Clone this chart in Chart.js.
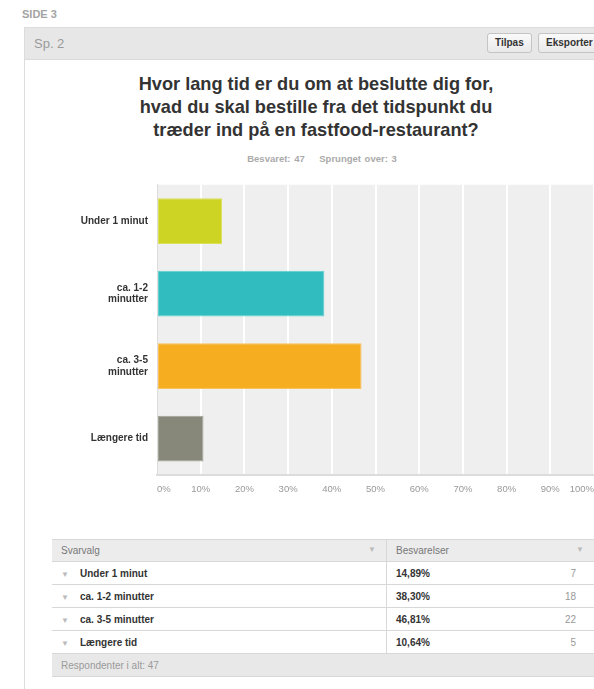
<!DOCTYPE html>
<html>
<head>
<meta charset="utf-8">
<script src="https://cdn.jsdelivr.net/npm/chart.js@4/dist/chart.umd.min.js"></script>
<style>
  body{margin:0;width:594px;height:689px;overflow:hidden;background:#fff;font-family:"Liberation Sans",Arial,sans-serif;position:relative;}
  .side{position:absolute;left:22px;top:8px;font-size:11px;font-weight:bold;color:#a3a3a3;}
  .panel{position:absolute;left:24px;top:27px;width:620px;height:700px;border:1px solid #dcdcdc;background:#fff;}
  .head{position:absolute;left:0;top:0;right:0;height:31px;background:#e7e7e7;border-bottom:1px solid #dadada;}
  .sp{position:absolute;left:9px;top:8px;font-size:13px;color:#9a9a9a;}
  .btn{position:absolute;top:5px;height:18px;line-height:18px;padding:0 7px;font-size:10px;font-weight:bold;color:#333;
       background:linear-gradient(#fafafa,#e9e9e9);border:1px solid #c4c4c4;border-radius:3px;}
  .title{position:absolute;left:0;width:632px;top:73px;text-align:center;font-size:18.2px;font-weight:bold;color:#333;line-height:23px;}
  .meta{position:absolute;left:0;width:644px;top:153px;text-align:center;font-size:9.5px;font-weight:bold;color:#aaa;word-spacing:1px;}
  #wrap{position:absolute;left:40px;top:170px;width:563px;height:331px;}
  table{position:absolute;left:52px;top:539px;width:570px;border-collapse:collapse;font-size:10px;}
  td{border-bottom:1px solid #d8d8d8;height:22px;padding:0;color:#333;}
  tr.hd td{background:#ececec;color:#777;height:21px;border-top:1px solid #d8d8d8;}
  tr.ft td{background:#e8e8e8;color:#9a9a9a;height:22px;}
  .c1{width:325px;border-right:1px solid #d8d8d8;}
  .arr{color:#bbb;font-size:8px;display:inline-block;width:19px;padding-left:9px;}
  .b{font-weight:bold;}
  .n{text-align:right;padding-right:46px;color:#999;}
</style>
</head>
<body>
<div class="side">SIDE 3</div>
<div class="panel">
  <div class="head">
    <div class="sp">Sp. 2</div>
    <div class="btn" style="left:462px;">Tilpas</div>
    <div class="btn" style="left:513px;">Eksporter</div>
  </div>
</div>
<div class="title">Hvor lang tid er du om at beslutte dig for,<br>hvad du skal bestille fra det tidspunkt du<br>træder ind på en fastfood-restaurant?</div>
<div class="meta">Besvaret: 47 &nbsp;&nbsp; Sprunget over: 3</div>
<div id="wrap"><canvas id="chart"></canvas></div>

<table>
  <tr class="hd"><td class="c1" style="padding-left:9px;">Svarvalg<span style="float:right;margin-right:10px;color:#bbb;font-size:8px;">▼</span></td><td style="padding-left:9px;" colspan="2">Besvarelser<span style="float:right;margin-right:38px;color:#bbb;font-size:8px;">▼</span></td></tr>
  <tbody id="rows"></tbody>
  <tr class="ft"><td colspan="3" style="padding-left:9px;">Respondenter i alt: 47</td></tr>
</table>

<script>
// answers and values
const categories = ['Under 1 minut', ['ca. 1-2', 'minutter'], ['ca. 3-5', 'minutter'], 'Længere tid'];
const tableNames = ['Under 1 minut', 'ca. 1-2 minutter', 'ca. 3-5 minutter', 'Længere tid'];
const percents = [14.89, 38.30, 46.81, 10.64];
const counts = [7, 18, 22, 5];
const barColors = ['#cdd423', '#31bdbf', '#f6ad1f', '#87887a'];
const borderColors = ['#dbe05a', '#62cfd0', '#f8c35a', '#a3a498'];

// table rows
let rowsHtml = '';
for (let i = 0; i < tableNames.length; i++) {
    rowsHtml += '<tr><td class="c1"><span class="arr">▼</span><span class="b">' + tableNames[i] + '</span></td>'
        + '<td class="b" style="padding-left:9px;width:150px;">' + percents[i].toFixed(2).replace('.', ',') + '%</td>'
        + '<td class="n">' + counts[i] + '</td></tr>';
}
document.getElementById('rows').innerHTML = rowsHtml;

// grey plot background
const plotBg = {
    id: 'plotBg',
    beforeDraw(chart) {
        const a = chart.chartArea, ctx = chart.ctx;
        ctx.save();
        ctx.fillStyle = '#efefef';
        ctx.fillRect(a.left, a.top, a.right - a.left, a.bottom - a.top);
        ctx.restore();
    }
};

new Chart(document.getElementById('chart'), {
    type: 'bar',
    data: {
        labels: categories,
        datasets: [{
            data: percents,
            backgroundColor: barColors,
            borderColor: borderColors,
            borderWidth: 1,
            borderSkipped: false,
            barPercentage: 0.63,
            categoryPercentage: 1
        }]
    },
    options: {
        indexAxis: 'y',
        responsive: true,
        maintainAspectRatio: false,
        animation: false,
        layout: { padding: { top: 10, right: 1, bottom: 4 } },
        plugins: { legend: { display: false }, tooltip: { enabled: false } },
        scales: {
            x: {
                min: 0, max: 100,
                afterFit(scale) { scale.height = 22; },
                ticks: {
                    stepSize: 10,
                    align: 'inner',
                    padding: 9,
                    color: '#999',
                    font: { family: '"Liberation Sans", Arial, sans-serif', size: 9.5 },
                    callback: v => v + '%'
                },
                grid: { color: '#ffffff', lineWidth: 2, drawTicks: false },
                border: { display: true, color: '#dcdcdc', width: 2 }
            },
            y: {
                afterFit(scale) { scale.width = 117; },
                ticks: {
                    padding: 9,
                    color: '#333',
                    font: { family: '"Liberation Sans", Arial, sans-serif', size: 10, weight: 'bold', lineHeight: 1.15 }
                },
                grid: { display: false, drawTicks: false },
                border: { display: true, color: '#dcdcdc', width: 1 }
            }
        }
    },
    plugins: [plotBg]
});
</script>
</body>
</html>
